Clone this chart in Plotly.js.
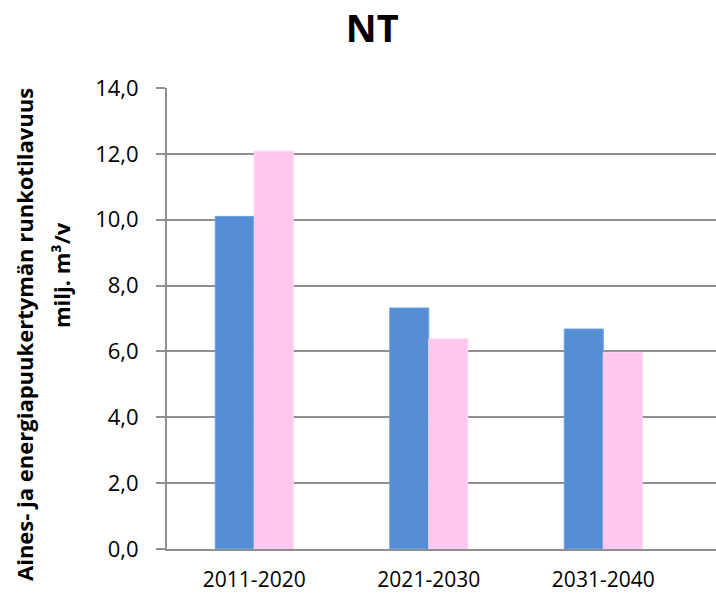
<!DOCTYPE html>
<html>
<head>
<meta charset="utf-8">
<script src="https://cdn.plot.ly/plotly-3.0.1.min.js"></script>
<style>
  body { margin: 0; background: #fff; }
  #chart { width: 716px; height: 595px; }
</style>
</head>
<body>
<div id="chart"></div>
<script>
// periods on the x axis
var periods = ["2011-2020", "2021-2030", "2031-2040"];

// the two series, milj. m3/v
var seriesBlue = [10.1, 7.32, 6.68];
var seriesPink = [12.08, 6.38, 5.97];

var yTicks = [0, 2, 4, 6, 8, 10, 12, 14];

var traceBlue = {
  x: periods,
  y: seriesBlue,
  type: "bar",
  name: "Sarja 1",
  marker: { color: "#558ED5", line: { color: "#6E9EDB", width: 1 } },
  hoverinfo: "x+y"
};
var tracePink = {
  x: periods,
  y: seriesPink,
  type: "bar",
  name: "Sarja 2",
  marker: { color: "#FFC6EE", line: { color: "#FFD3F2", width: 1 } },
  hoverinfo: "x+y"
};

var grey = "#8f8f8f";
var font = "Open Sans, sans-serif";

var layout = {
  width: 716,
  height: 595,
  margin: { l: 167, r: 0, t: 88, b: 46 },
  paper_bgcolor: "#fff",
  plot_bgcolor: "#fff",
  showlegend: false,
  separators: ", ",
  barmode: "group",
  bargap: 0.553,
  bargroupgap: 0,
  font: { family: font, size: 22, color: "#000" },
  title: {
    text: "<b>NT</b>",
    font: { family: font, size: 38, color: "#000" },
    xref: "container", x: 0.52, xanchor: "center",
    yref: "container", y: 1 - 29 / 595, yanchor: "middle"
  },
  xaxis: {
    type: "category",
    range: [-0.5, 2.646],
    showgrid: false,
    showline: true,
    linecolor: grey,
    linewidth: 2,
    ticks: "",
    ticklabelstandoff: 11,
    tickfont: { family: font, size: 21 },
    fixedrange: true
  },
  yaxis: {
    range: [0, 14],
    tickvals: yTicks,
    tickformat: ".1f",
    showgrid: true,
    gridcolor: grey,
    gridwidth: 2,
    zeroline: false,
    showline: true,
    linecolor: grey,
    linewidth: 2,
    ticks: "outside",
    ticklen: 9,
    tickcolor: grey,
    tickwidth: 2,
    ticklabelstandoff: 13,
    tickfont: { family: font, size: 22 },
    fixedrange: true
  },
  annotations: [
    {
      text: "<b>Aines- ja energiapuukertymän runkotilavuus</b>",
      xref: "paper", yref: "paper",
      x: (24 - 167) / 549, y: (549 - 335) / 461,
      xanchor: "center", yanchor: "middle",
      textangle: -90, showarrow: false,
      font: { family: font, size: 22, color: "#000" }
    },
    {
      text: "<b>milj. m³/v</b>",
      xref: "paper", yref: "paper",
      x: (61 - 167) / 549, y: (549 - 275) / 461,
      xanchor: "center", yanchor: "middle",
      textangle: -90, showarrow: false,
      font: { family: font, size: 22, color: "#000" }
    }
  ]
};

Plotly.newPlot("chart", [traceBlue, tracePink], layout, { displayModeBar: false, staticPlot: true });
</script>
</body>
</html>
